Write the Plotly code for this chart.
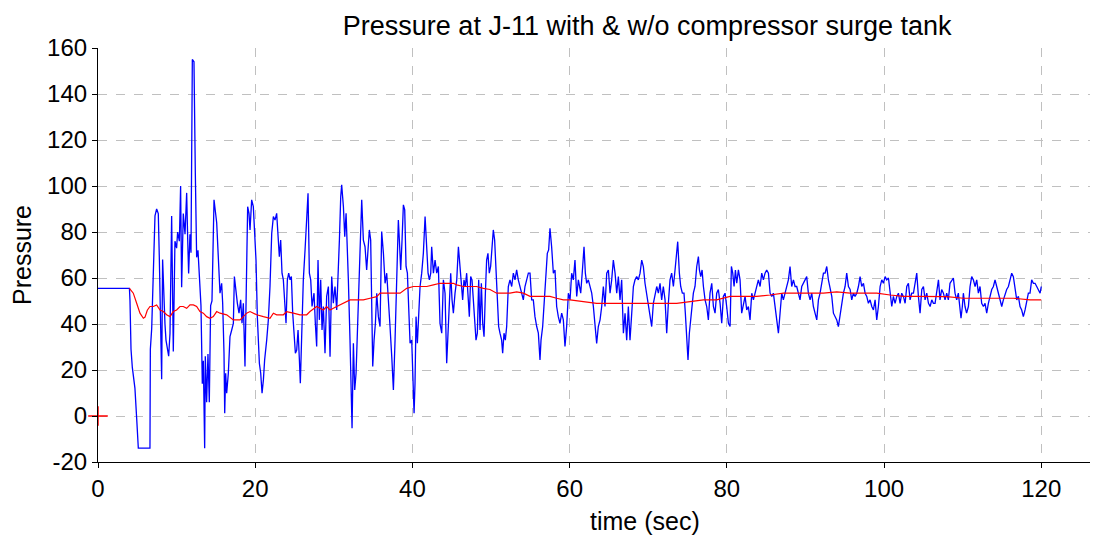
import plotly.graph_objects as go

# ---------------------------------------------------------------
# Data (time in sec, pressure)
# ---------------------------------------------------------------

# with no surge tank (blue)
blue_t = [
    0, 4.0, 4.07, 4.2, 4.37, 4.7, 4.92, 5.13, 6.61, 6.66, 6.83, 7.04, 7.25, 7.46, 7.67, 7.8,
    7.97, 8.1, 8.22, 8.39, 8.52, 8.65, 8.82, 8.99, 9.16, 9.37, 9.58, 9.79, 10.0, 10.13, 10.35,
    10.51, 10.64, 10.85, 11.07, 11.28, 11.41, 11.53, 11.7, 11.83, 12.0, 12.21, 12.38, 12.55,
    12.72, 12.89, 13.1, 13.27, 13.4, 13.57, 13.65, 13.82, 13.99, 14.16, 14.33, 14.5, 14.76,
    15.1, 15.31,
    15.52, 15.73, 15.86, 16.03, 16.12, 16.24, 16.37, 16.58, 16.79, 17.01, 17.22, 17.35, 17.56,
    17.73, 17.94, 18.15, 18.32, 18.49, 18.7, 18.91, 19.04, 19.21, 19.34, 19.55, 19.76, 19.93,
    20.1, 20.27, 20.53, 20.7, 20.87, 21.04, 21.2, 21.46, 21.67, 21.88, 22.1, 22.31, 22.52,
    22.73, 22.9, 23.07, 23.24, 23.41, 23.58, 23.75, 23.92, 24.09, 24.26, 24.43, 24.6, 24.77,
    24.94, 25.11, 25.28, 25.45, 25.62, 25.74, 25.91, 26.12, 26.34, 26.55, 26.72, 26.89, 27.06,
    27.23, 27.48, 27.65, 27.82, 27.99, 28.16, 28.33, 28.5, 28.67, 28.88, 29.09, 29.31, 29.52,
    29.73, 29.94, 30.15, 30.37, 30.58,
    30.71, 30.88, 31.0, 31.22, 31.39, 31.56, 31.73, 31.85, 32.06, 32.19, 32.32, 32.49, 32.66,
    32.83, 33.0, 33.17, 33.34, 33.55, 33.76, 33.97, 34.18, 34.4, 34.52, 34.69, 34.86, 34.95,
    35.12, 35.29, 35.46, 35.67, 35.88, 36.09, 36.31, 36.52, 36.73, 36.94, 37.15, 37.37, 37.58,
    37.79, 38.0, 38.21, 38.34, 38.51, 38.68, 38.85, 39.02, 39.19, 39.36, 39.53, 39.7, 39.91,
    40.04, 40.21, 40.33, 40.46, 40.63, 40.8, 40.97, 41.18, 41.39, 41.61, 41.82, 41.99, 42.16,
    42.33, 42.45, 42.67, 42.88, 43.09, 43.3, 43.51, 43.73, 43.94, 44.15, 44.36, 44.49, 44.7,
    44.87, 45.04, 45.21, 45.42, 45.64, 45.85,
    46.05, 46.22, 46.39, 46.56, 46.73, 46.9, 47.07, 47.24, 47.41, 47.58, 47.75, 47.92, 48.09,
    48.26, 48.43, 48.6, 48.77, 48.94, 49.11, 49.28, 49.44, 49.61, 49.78, 49.95, 50.12, 50.29,
    50.46, 50.63, 50.8, 50.97, 51.14, 51.35, 51.48, 51.65, 51.82, 51.99, 52.2, 52.41, 52.63,
    52.84, 53.05, 53.26, 53.47, 53.69, 53.9, 54.11, 54.32, 54.53, 54.75, 54.96, 55.17, 55.38,
    55.59, 55.81, 56.02, 56.23, 56.36, 56.57, 56.74, 56.99, 57.16, 57.33, 57.5, 57.71, 57.93,
    58.14, 58.35, 58.56, 58.77, 58.99, 59.2, 59.41, 59.62, 59.84, 60.05, 60.26, 60.47, 60.68,
    60.9, 61.11,
    61.24, 61.41, 61.66, 61.83, 62.0, 62.17, 62.38, 62.59, 62.81, 63.02, 63.23, 63.44, 63.65,
    63.87, 64.08, 64.29, 64.5, 64.72, 64.93, 65.14, 65.35, 65.56, 65.78, 65.99, 66.2, 66.41,
    66.62, 66.84, 67.05, 67.26, 67.47, 67.68, 67.9, 68.11, 68.32, 68.53, 68.74, 68.96, 69.17,
    69.38, 69.59, 69.8, 70.02, 70.23, 70.44, 70.65, 70.86, 71.08, 71.29, 71.5, 71.71, 71.92,
    72.14, 72.35, 72.56, 72.77, 72.98, 73.2, 73.41, 73.62, 73.75, 73.96, 74.13, 74.34, 74.55,
    74.72, 74.89, 75.06, 75.23, 75.4, 75.57, 75.74, 75.95, 76.17, 76.38,
    76.51, 76.68, 76.85, 77.02, 77.23, 77.44, 77.65, 77.86, 78.08, 78.29, 78.5, 78.71, 78.92,
    79.14, 79.35, 79.56, 79.77, 79.98, 80.2, 80.41, 80.58, 80.75, 80.92, 81.09, 81.26, 81.47,
    81.68, 81.89, 82.11, 82.32, 82.53, 82.74, 82.95, 83.17, 83.38, 83.59, 83.8, 84.01, 84.23,
    84.44, 84.65, 84.86, 85.07, 85.29, 85.5, 85.71, 85.92, 86.13, 86.35, 86.56, 86.77, 86.98,
    87.19, 87.41, 87.62, 87.83, 88.04, 88.25, 88.47, 88.68, 88.89, 89.1, 89.31, 89.53, 89.74,
    89.95, 90.16, 90.37, 90.59, 90.8, 91.01, 91.22, 91.44, 91.65,
    91.86, 92.07, 92.29, 92.5, 92.71, 92.92, 93.13, 93.35, 93.56, 93.77, 93.98, 94.19, 94.41,
    94.62, 94.83, 95.04, 95.25, 95.47, 95.68, 95.89, 96.1, 96.31, 96.53, 96.74, 96.95, 97.16,
    97.38, 97.59, 97.8, 98.01, 98.22, 98.44, 98.65, 98.86, 99.07, 99.28, 99.5, 99.71, 99.92,
    100.13, 100.34, 100.56, 100.77, 100.98, 101.19, 101.4, 101.62, 101.83, 102.04, 102.25,
    102.46, 102.68, 102.89, 103.1, 103.31, 103.52, 103.74, 103.95, 104.16, 104.37, 104.58,
    104.8, 105.01, 105.22, 105.43, 105.65, 105.86, 106.07, 106.28, 106.49, 106.71, 106.92,
    107.12, 107.33, 107.55, 107.76, 107.97, 108.18, 108.39, 108.61, 108.82, 109.03, 109.24,
    109.45, 109.67, 109.79, 109.96, 110.09, 110.3, 110.5, 110.73, 110.94, 111.15, 111.36,
    111.58, 111.79, 112.0, 112.21, 112.42, 112.64, 112.85, 113.06, 113.27, 113.48, 113.7,
    113.91, 114.12, 114.33, 114.54, 114.76, 114.97, 115.18, 115.39, 115.6, 115.82, 116.03,
    116.24, 116.45, 116.66, 116.88, 117.09, 117.3, 117.51, 117.72, 117.94, 118.15, 118.36,
    118.57, 118.78, 119.0, 119.21, 119.42, 119.63, 119.85, 120.0,
]
blue_p = [
    55.5, 55.5, 50, 29, 21, 12, -1, -14, -14, 29, 38, 63, 87, 90, 88, 69,
    29, 16, 68, 47, 40, 33, 30, 26, 36, 87, 28, 76, 73, 80, 76,
    100, 56, 88, 79, 97, 77, 62, 79, 71, 155, 154, 106, 69,
    72, 58, 48, 14, 24, -14, 26, 6, 27, 6, 48, 50, 94,
    84, 71,
    53.4, 57.7, 49, 27.3, 1.2, 18.6, 9.9, 18.6, 34.5, 37.4, 40.3, 60.6, 53.4,
    49, 44.7, 50.5, 40.3, 49, 21.5, 67.8, 91, 88.1, 80.9, 94, 91, 79.4,
    67.8, 43.2, 22.9, 18.6, 9.9, 15.7, 24.4, 33, 41.8, 56.3, 79.4, 86.7, 85.2,
    88.1, 76.5, 69.3, 76.5, 62.1, 59.2, 50.5, 40.3, 59.2, 62.1, 59.2, 60.6, 44.7,
    33, 27.3, 28.7, 37.4, 24.4, 14.2, 34.5, 59.2, 72.2, 83.8, 96.8, 62.1, 59.2,
    47.6, 53.4, 40.3, 30.2, 67.8, 41.8, 59.2, 37.4, 47.6, 27.3, 52, 56.3, 25.8,
    60.6, 49, 56.3, 46.1, 62.1,
    76.5, 95.4, 100.5, 91, 78, 88.1, 65, 59.2, 33, 4.1, -5.3, 31.6, 11.3,
    18.6, 34.5, 52, 73.6, 94, 76.5, 73.6, 63.5, 73.6, 80.9, 76.5, 33, 21.5,
    33, 40.3, 53.4, 43.2, 38.9, 80.2, 70.7, 57.7, 62.1, 47.6, 38.9, 25.8, 11.3,
    33, 59.2, 85.2, 76.5, 63.5, 76.5, 91.8, 89.6, 65, 62.1, 47.6, 31.6, 33,
    18.6, 1.2, 14.2, 43.2, 31.6, 44.7, 56.3, 62.1, 70.7, 86.7, 69.3, 62.1, 59.2,
    62.1, 73.6, 62.1, 67.8, 62.1, 65, 40.3, 36, 59.2, 53.4, 22.9, 33, 53.4,
    62.1, 50.5, 44.7, 53.4, 59.2, 73.6,
    63.5, 56.3, 50.5, 59.2, 56.3, 62.1, 49, 43.2, 60.6, 59.2, 50.5, 38.9, 33,
    36, 59.2, 37.4, 57.7, 40.3, 34.5, 53.4, 67.8, 70.7, 62.1, 65, 75, 80.9,
    76.5, 65, 50.5, 38.9, 36, 33, 27.3, 36, 33, 38.9, 56.3, 59.2, 56.3,
    62.1, 59.2, 63.5, 59.2, 56.3, 53.4, 50.5, 56.3, 59.2, 62.1, 62.1, 50.5, 50.5,
    43.2, 38.9, 36, 24.4, 33, 38.9, 47.6, 62.1, 70.7, 72.2, 81.6, 73.6, 62.1,
    63.5, 47.6, 43.2, 40.3, 44.7, 41.8, 30.2, 38.9, 53.4, 50.5, 62.1, 59.2, 67.8,
    52, 59.2,
    56.3, 53.4, 65, 73.6, 62.1, 57.7, 59.2, 56.3, 53.4, 47.6, 38.9, 31.6, 38.9,
    41.8, 47.6, 56.3, 47.6, 62.1, 63.5, 53.4, 59.2, 67.8, 62.1, 53.4, 60.6, 50.5,
    59.2, 36, 44.7, 33, 47.6, 33, 44.7, 56.3, 59.2, 60.6, 59.2, 62.1, 67.8,
    65, 57.7, 53.4, 47.6, 44.7, 38.9, 49, 53.4, 56.3, 53.4, 57.7, 50.5, 56.3,
    50.5, 36, 49, 59.2, 62.1, 56.3, 63.5, 73.6, 75.8, 62.1, 56.3, 53.4, 53.4,
    44.7, 31.6, 24.4, 36, 41.8, 44.7, 53.4, 56.3, 65, 69.3,
    63.5, 60.6, 63.5, 56.3, 50.5, 47.6, 41.8, 53.4, 57.7, 47.6, 44.7, 53.4, 55,
    49, 40.3, 52, 53.4, 47.6, 40.3, 38.9, 65, 62.1, 56.3, 63.5, 57.7, 63.5,
    59.2, 44.7, 49, 52, 46.1, 47.6, 41.8, 53.4, 50.5, 53.4, 56.3, 59.2, 56.3,
    62.1, 59.2, 62.1, 63.5, 62.1, 53.4, 52, 53.4, 47.6, 41.8, 36, 44.7, 53.4,
    50.5, 53.4, 56.3, 59.2, 65, 56.3, 59.2, 56.3, 56.3, 53.4, 50.5, 56.3, 57.7,
    59.2, 60.6, 53.4, 50.5, 53.4, 47.6, 44.7, 41.8, 50.5,
    53.4, 57.7, 62.1, 62.1, 65, 59.2, 56.3, 52, 44.7, 43.2, 41.8, 38.9, 44.7,
    49, 53.4, 56.3, 62.1, 56.3, 55, 50.5, 53.4, 52, 53.4, 56.3, 60.6, 56.3,
    57.7, 53.4, 52, 49, 50.5, 47.6, 46.1, 50.5, 41.8, 47.6, 56.3, 59.2, 57.7,
    60.6, 59.2, 60, 52, 47.6, 52, 49, 52, 53.4, 49, 53.4,
    52, 49, 56.3, 57.7, 50.5, 53.4, 53.4, 57.7, 62.1, 52, 44.7,
    55, 56.3, 50.5, 53.4, 49, 47.6, 50.5, 49, 49, 53.4, 59.2,
    50.5, 55, 53.4, 50.5, 53.4, 50.5, 57.7, 59.2, 60, 53.4, 50.5,
    53.4, 47.6, 42.5, 47.6, 53.4, 47.6, 44.7, 47.6, 56.3, 60.6, 59.2,
    56.3, 59.2, 53.4, 56.3, 49, 47.6, 49, 44.7, 49, 52, 55,
    56.3, 59.2, 56.3, 53.4, 50.5, 47.6, 50.5, 53.4, 55, 56.3, 59.2,
    62.1, 60.6, 56.3, 50.5, 52, 47.6, 46.1, 43.2, 46.1, 50.5, 53.4,
    53.4, 59.2, 57.7, 57.7, 56.3, 55, 53.4, 56.3,
]

# with surge tank (red)
red_t = [
    4.0, 4.49, 4.92, 5.34, 5.77, 5.98, 6.27, 6.61, 7.04, 7.46, 7.89, 8.31, 8.73, 9.16, 9.58,
    10.0, 10.43, 10.85, 11.28, 11.7, 12.13, 12.55, 12.97, 13.4, 13.82, 14.25, 14.67, 15.1,
    15.52, 16.37, 17.22, 18.07, 18.49, 18.91, 19.34, 20.19, 21.04, 21.88, 22.31, 22.73, 23.58,
    24.0, 24.85, 25.7, 26.55, 26.97, 27.82, 28.67, 29.09, 29.52, 30.37, 31.22, 32.06, 32.91,
    33.76, 34.61, 35.46, 35.88, 36.73, 37.58, 38.43, 39.27, 40.12, 40.97, 41.82, 42.67, 43.51,
    44.36, 45.21, 45.63, 46.48, 47.32, 48.17, 49.02, 49.87, 50.72, 51.57, 52.41, 53.26, 54.11,
    54.96, 55.81, 56.65, 57.5, 58.35, 59.2, 60.05, 61.75, 63.44, 65.14, 66.84, 68.53, 70.23,
    71.92, 73.62, 75.32, 77.02, 78.71, 80.41, 82.11, 83.8, 85.5, 87.19, 88.89, 90.59, 92.29,
    93.98, 95.68, 97.38, 99.07, 100.77, 102.46, 104.16, 105.86, 107.97, 110.09, 112.21,
    114.33, 116.45, 118.57, 120.0,
]
red_p = [
    55.5, 53.4, 49, 44.7, 42.5, 43, 46, 47.6, 47.6, 48.3, 46.1, 45.4, 44, 43.2, 45.4,
    46.1, 47.6, 47.6, 46.8, 48.3, 48.3, 47.6, 45.4, 44.7, 43.2, 42.5, 43.2, 45.4,
    44.7, 44, 41.8, 41.8, 43.2, 44.7, 45.4, 44, 43.2, 42.5, 44.7, 44, 44,
    45.4, 44.7, 44, 44, 45.4, 47.6, 46.1, 47.6, 46.1, 47.6, 49, 50.5, 50.5,
    50.5, 51.2, 51.9, 53.4, 53.4, 53.4, 53.4, 55.5, 56.3, 56.3, 56.3, 57, 57.7,
    57.7, 57.7, 57, 56.3, 56.3, 56.3, 55.5, 55, 53.4, 53.4, 53.4, 54, 53.4,
    52, 52, 52, 52, 51.2, 50.5, 50.5, 49.7, 49, 49, 49, 49, 49,
    49, 49, 49.7, 50.5, 50.5, 52, 52, 52, 52.6, 53.4, 53.4, 53.4, 53.4,
    54, 53.4, 53.4, 53.4, 52.6, 52, 52, 52, 51.9, 51.2, 51.2,
    51.2, 51.2, 50.5, 50.5,
]

x_ticks = [0, 20, 40, 60, 80, 100, 120]
y_ticks = [-20, 0, 20, 40, 60, 80, 100, 120, 140, 160]
y_labels = ["-20", "0", "20", "40", "60", "80", "100", "120", "140", "160"]

FONT = "Liberation Sans, Arial, sans-serif"
GRID = "#c0c0c0"

fig = go.Figure()

fig.add_trace(go.Scatter(
    x=blue_t, y=blue_p, mode="lines", name="w/o surge tank",
    line=dict(color="#0000ff", width=1.3),
))
fig.add_trace(go.Scatter(
    x=red_t, y=red_p, mode="lines", name="with surge tank",
    line=dict(color="#ff0000", width=1.2),
))
# red cross marker at the origin
fig.add_trace(go.Scatter(
    x=[0], y=[0], mode="markers", cliponaxis=False, showlegend=False,
    marker=dict(symbol="cross-thin", size=14, color="#ff0000",
                line=dict(color="#ff0000", width=1.5)),
))

axis_common = dict(
    showgrid=True, gridcolor=GRID, griddash="dash", gridwidth=1,
    showline=True, linecolor="black", linewidth=1.2,
    ticks="outside", ticklen=5, tickcolor="black",
    tickfont=dict(family=FONT, size=24, color="black"),
    zeroline=False, automargin=False,
)

# the page body adds an 8px offset, margins are set to compensate
fig.update_layout(
    width=1104, height=537,
    margin=dict(l=90, r=22, t=40, b=83),
    paper_bgcolor="white", plot_bgcolor="white",
    showlegend=False,
    font=dict(family=FONT, color="black"),
    title=dict(
        text="Pressure at J-11 with & w/o compressor surge tank",
        x=0.579, xref="container", xanchor="center",
        y=0.968, yref="container", yanchor="middle",
        font=dict(family=FONT, size=27, color="black"),
    ),
    xaxis=dict(range=[0, 126.2], tickvals=x_ticks, **axis_common),
    yaxis=dict(
        range=[-20, 160], tickvals=y_ticks, ticktext=y_labels,
        title=dict(text="Pressure", font=dict(family=FONT, size=25), standoff=8),
        **axis_common,
    ),
    annotations=[dict(
        text="time (sec)", x=0.551, xref="paper", y=0, yref="paper",
        xanchor="center", yanchor="top", yshift=-43, showarrow=False,
        font=dict(family=FONT, size=25, color="black"),
    )],
)

fig.write_html("out.html")
